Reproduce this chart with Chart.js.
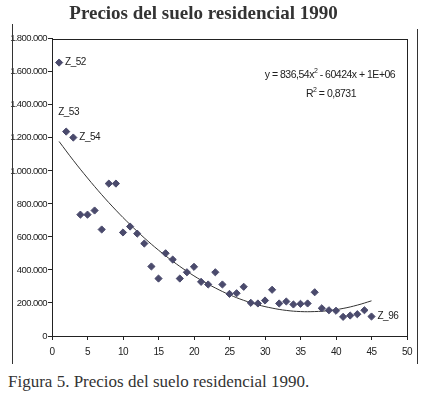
<!DOCTYPE html>
<html>
<head>
<meta charset="utf-8">
<script src="https://cdn.jsdelivr.net/npm/chart.js@4"></script>
<style>
  html, body { margin: 0; padding: 0; background: #fff; }
  #wrap { position: relative; width: 437px; height: 399px; }
  #c { position: absolute; left: 0; top: 0; }
  #caption { position: absolute; left: 8px; top: 372px; font-family: "Liberation Serif", "Times New Roman", serif; font-size: 17px; color: #333; white-space: nowrap; }
</style>
</head>
<body>
<div id="wrap">
  <canvas id="c" width="437" height="370"></canvas>
  <div id="caption">Figura 5. Precios del suelo residencial 1990.</div>
</div>
<script>
const titleText = "Precios del suelo residencial 1990";
const zoneIndex = [1,2,3,4,5,6,7,8,9,10,11,12,13,14,15,16,17,18,19,20,21,22,23,24,25,26,27,28,29,30,31,32,33,34,35,36,37,38,39,40,41,42,43,44,45];
const prices = [1656000,1238000,1202000,735000,735000,760000,645000,923000,923000,627000,663000,620000,560000,421000,348000,501000,463000,348000,386000,419000,328000,312000,386000,312000,255000,259000,298000,201000,197000,215000,280000,197000,209000,191000,195000,197000,265000,168000,156000,153000,116000,124000,132000,156000,118000];
const trendX = [1,3,5,7,9,11,13,15,17,19,21,23,25,27,29,31,33,35,37,39,41,43,45];
const trendY = [1178000,1064000,957000,856000,762000,675000,594000,520000,453000,392000,338000,291000,250000,216000,189000,169000,155000,148000,148000,154000,167000,187000,213000];
const pointLabels = {1: "Z_52", 2: "Z_53", 3: "Z_54", 45: "Z_96"};
const equationParts = ["y = 836,54x", "2", " - 60424x + 1E+06"];
const r2Parts = ["R", "2", " = 0,8731"];
const xTicks = [0,5,10,15,20,25,30,35,40,45,50];
const yTicks = [0,200000,400000,600000,800000,1000000,1200000,1400000,1600000,1800000];

const sans = '"Liberation Sans", Arial, sans-serif';
const TIGHT = '-0.6px';

function fmt(v) {
  return String(v).replace(/\B(?=(\d{3})+(?!\d))/g, ".");
}

function drawSup(ctx, parts, cx, cy, size) {
  const big = size + 'px ' + sans, small = Math.round(size * 0.7) + 'px ' + sans;
  ctx.font = big; const w0 = ctx.measureText(parts[0]).width, w2 = ctx.measureText(parts[2]).width;
  ctx.font = small; const w1 = ctx.measureText(parts[1]).width;
  let x = cx - (w0 + w1 + w2) / 2;
  ctx.textAlign = 'left';
  ctx.font = big; ctx.fillText(parts[0], x, cy); x += w0;
  ctx.font = small; ctx.fillText(parts[1], x, cy - 4); x += w1;
  ctx.font = big; ctx.fillText(parts[2], x, cy);
}

const decor = {
  id: 'decor',
  beforeDraw(chart) {
    const ctx = chart.ctx;
    if (chart.titleBlock && !chart.titleBlock._patched) {
      const orig = chart.titleBlock.draw.bind(chart.titleBlock);
      chart.titleBlock.draw = function () {
        ctx.letterSpacing = '0px';
        orig();
        ctx.letterSpacing = TIGHT;
      };
      chart.titleBlock._patched = true;
    }
    ctx.letterSpacing = TIGHT;
  },
  afterDraw(chart) {
    const ctx = chart.ctx;
    const a = chart.chartArea;
    const xs = chart.scales.x, ys = chart.scales.y;
    ctx.save();
    ctx.letterSpacing = '0px';
    ctx.strokeStyle = '#333';
    ctx.lineWidth = 1;
    ctx.beginPath();
    ctx.moveTo(12.5, 24); ctx.lineTo(12.5, 364);
    ctx.moveTo(417.5, 29); ctx.lineTo(417.5, 364);
    ctx.stroke();
    ctx.strokeStyle = '#222';
    ctx.strokeRect(Math.round(a.left) + 0.5, Math.round(a.top) + 0.5, Math.round(a.right - a.left), Math.round(a.bottom - a.top));
    ctx.letterSpacing = '-0.5px';
    ctx.fillStyle = '#222';
    ctx.font = '10px ' + sans;
    ctx.textBaseline = 'middle';
    ctx.textAlign = 'left';
    zoneIndex.forEach((x, i) => {
      const lab = pointLabels[x];
      if (!lab) return;
      const px = xs.getPixelForValue(x), py = ys.getPixelForValue(prices[i]);
      if (x === 2) ctx.fillText(lab, px - 8, py - 19);
      else ctx.fillText(lab, px + 6, py);
    });
    drawSup(ctx, equationParts, 330, 75, 10.5);
    drawSup(ctx, r2Parts, 331, 94, 10.5);
    ctx.restore();
    ctx.letterSpacing = '0px';
  }
};

new Chart(document.getElementById('c'), {
  type: 'scatter',
  data: {
    datasets: [
      {
        type: 'scatter',
        data: zoneIndex.map((x, i) => ({x: x, y: prices[i]})),
        pointStyle: 'rectRot',
        pointRadius: 3.6,
        backgroundColor: '#4a4a6c',
        borderColor: '#4a4a6c',
        borderWidth: 1,
        order: 1
      },
      {
        type: 'line',
        data: trendX.map((x, i) => ({x: x, y: trendY[i]})),
        borderColor: '#333',
        borderWidth: 1,
        pointRadius: 0,
        tension: 0.4,
        fill: false,
        order: 2
      }
    ]
  },
  plugins: [decor],
  options: {
    responsive: false,
    animation: false,
    events: [],
    layout: { padding: { left: 0, right: 30, top: 0, bottom: 8 } },
    plugins: {
      legend: { display: false },
      tooltip: { enabled: false },
      title: {
        display: true,
        text: titleText,
        color: '#333',
        font: { family: '"Liberation Serif", "Times New Roman", serif', size: 19, weight: 'bold' },
        padding: { top: 3, bottom: 13 }
      }
    },
    scales: {
      x: {
        type: 'linear',
        min: 0, max: 50,
        afterBuildTicks: (s) => { s.ticks = xTicks.map(v => ({value: v})); },
        grid: { drawOnChartArea: false, drawTicks: true, tickLength: 4, color: '#222' },
        border: { display: true, color: '#222' },
        ticks: { color: '#222', font: { family: sans, size: 10 }, padding: 6, maxRotation: 0 },
        afterFit: (s) => { s.height = 26; }
      },
      y: {
        type: 'linear',
        min: 0, max: 1800000,
        afterBuildTicks: (s) => { s.ticks = yTicks.map(v => ({value: v})); },
        grid: { drawOnChartArea: false, drawTicks: true, tickLength: 4, color: '#222' },
        border: { display: true, color: '#222' },
        ticks: { color: '#222', font: { family: sans, size: 9.5 }, padding: 1, callback: (v) => fmt(v) },
        afterFit: (s) => { s.width = 52; }
      }
    }
  }
});
</script>
</body>
</html>
